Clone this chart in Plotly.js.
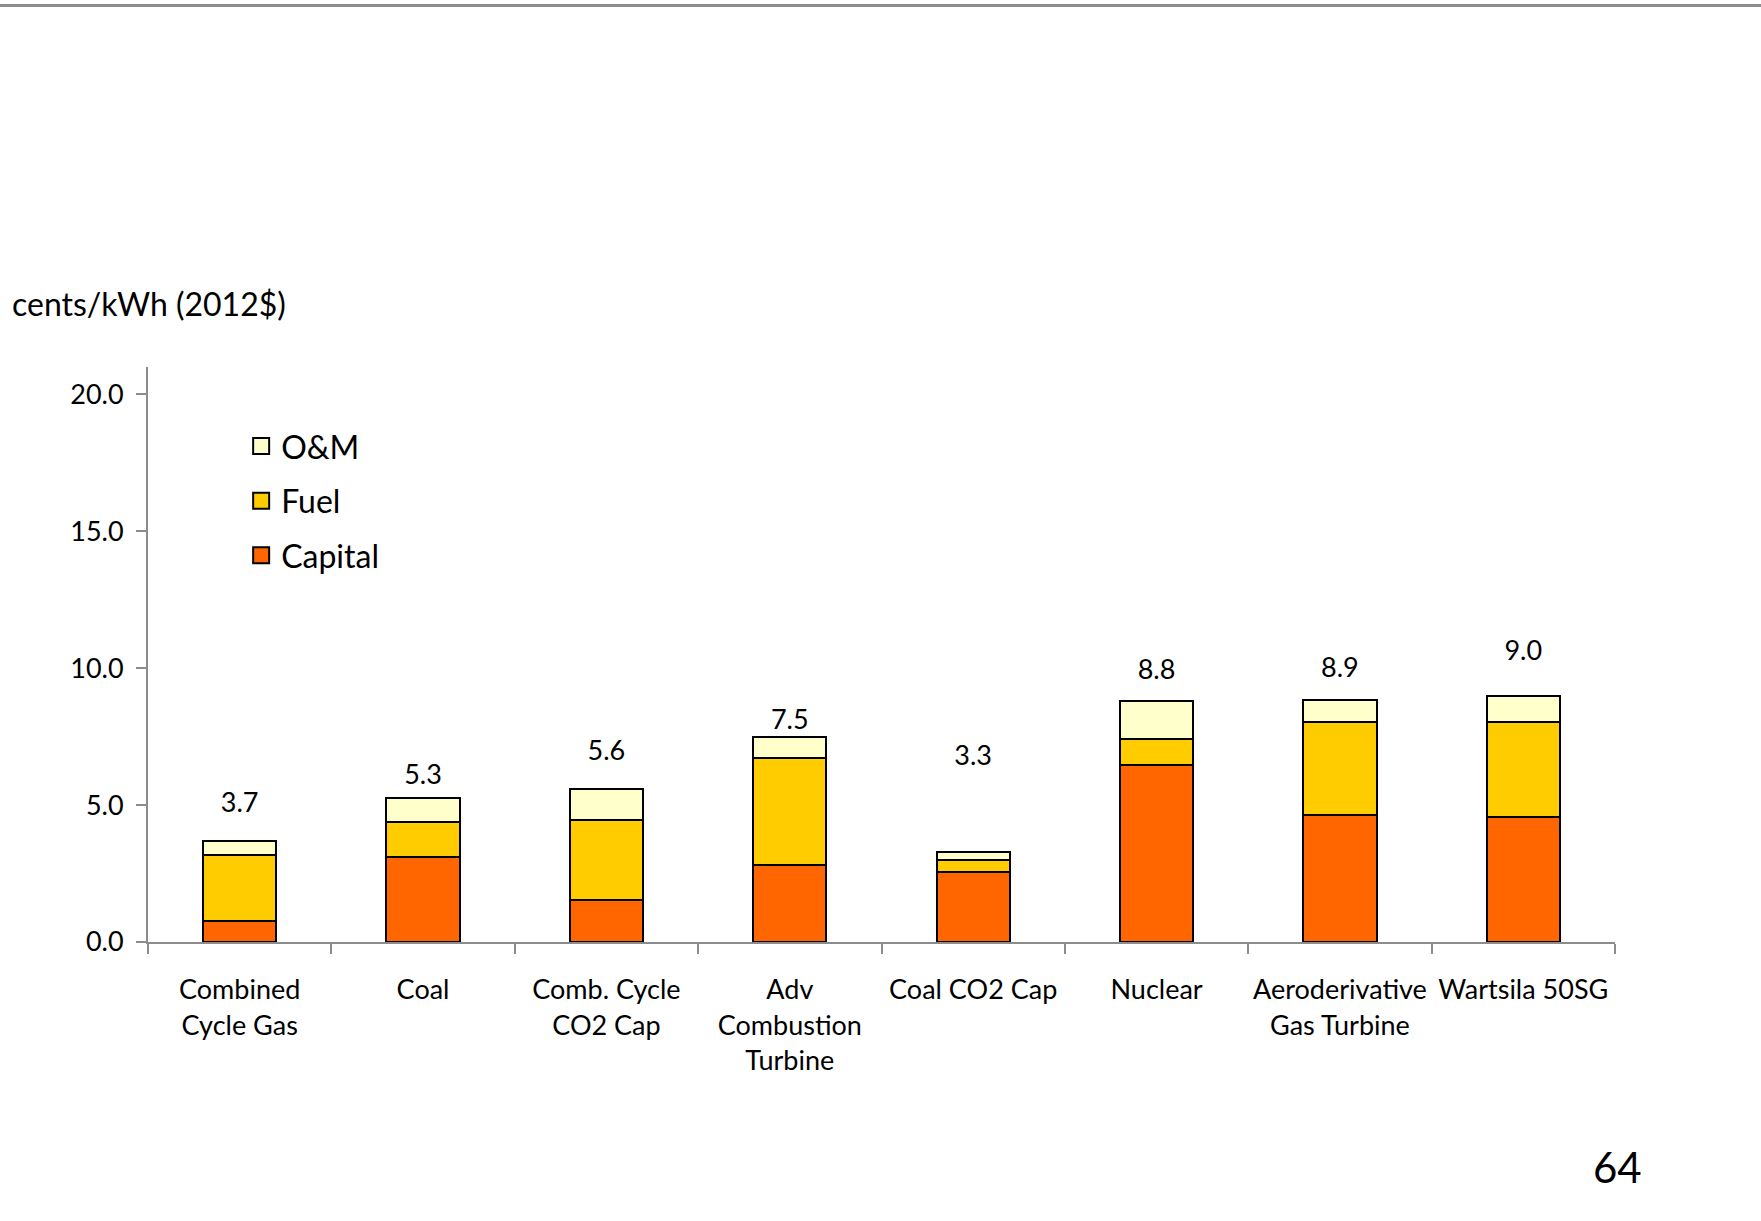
<!DOCTYPE html>
<html>
<head>
<meta charset="utf-8">
<script src="https://cdn.plot.ly/plotly-3.0.1.min.js"></script>
<style>
  html, body { margin: 0; padding: 0; background: #fff; }
  #chart { width: 1761px; height: 1221px; }
</style>
</head>
<body>
<div id="chart"></div>
<script>
// ---- data ----
const categories = [
  "Combined<br>Cycle Gas",
  "Coal",
  "Comb. Cycle<br>CO2 Cap",
  "Adv<br>Combustion<br>Turbine",
  "Coal CO2 Cap",
  "Nuclear",
  "Aeroderivative<br>Gas Turbine",
  "Wartsila 50SG"
];
const capital = [0.75, 3.10, 1.55, 2.83, 2.56, 6.45, 4.64, 4.55];
const fuel    = [2.42, 1.28, 2.92, 3.89, 0.43, 0.97, 3.39, 3.48];
const om      = [0.53, 0.87, 1.13, 0.78, 0.31, 1.38, 0.82, 0.97];
const totalLabels = ["3.7", "5.3", "5.6", "7.5", "3.3", "8.8", "8.9", "9.0"];
// height (cents/kWh) at which each total label sits in the original chart
const totalLabelY = [4.98, 6.01, 6.88, 8.03, 6.71, 9.84, 9.92, 10.54];
const yTicks = [0, 5, 10, 15, 20];
const seriesNames = ["Capital", "Fuel", "O&M"];
const seriesColors = ["#FF6600", "#FFCC00", "#FFFFCC"];

// ---- chart ----
const FONT = "Lato, 'Open Sans', sans-serif";
const outline = { color: "#000000", width: 2 };
const seriesValues = [capital, fuel, om];

const traces = [];
seriesValues.forEach((vals, i) => {
  traces.push({
    type: "bar", name: seriesNames[i], x: categories, y: vals,
    marker: { color: seriesColors[i], line: outline },
    showlegend: false, hoverinfo: "skip"
  });
});
// legend entries (larger square swatches, like the original)
seriesNames.forEach((nm, i) => {
  traces.push({
    type: "scatter", mode: "markers", name: nm, x: [null], y: [null],
    marker: { symbol: "square", size: 20, color: seriesColors[i], line: { color: "#000", width: 2 } },
    legendgroup: "g" + i, legendrank: 10 - i, showlegend: true, hoverinfo: "skip"
  });
});
traces.push({
  type: "scatter", mode: "text", x: categories, y: totalLabelY, text: totalLabels,
  textposition: "middle center", textfont: { family: FONT, size: 27, color: "#000" },
  showlegend: false, hoverinfo: "skip", cliponaxis: false
});

const layout = {
  width: 1761, height: 1221,
  paper_bgcolor: "#ffffff", plot_bgcolor: "#ffffff",
  margin: { l: 148, r: 146, t: 367, b: 279 },
  barmode: "stack",
  bargap: 0.6,
  font: { family: FONT, color: "#000" },
  showlegend: true,
  legend: {
    x: 0.0635, y: 0.910, xanchor: "left", yanchor: "top",
    traceorder: "grouped", tracegroupgap: 10,
    font: { family: FONT, size: 32, color: "#000" },
    bgcolor: "rgba(0,0,0,0)"
  },
  xaxis: {
    type: "category",
    showline: true, linecolor: "#8c8c8c", linewidth: 2,
    ticks: "outside", tickson: "boundaries", ticklen: 10, tickcolor: "#8c8c8c", tickwidth: 2,
    tickfont: { family: FONT, size: 27, color: "#000" },
    tickangle: 0,
    ticklabelstandoff: 23,
    showgrid: false, zeroline: false, fixedrange: true
  },
  yaxis: {
    range: [0, 21],
    tickvals: yTicks, tickformat: ".1f",
    showline: true, linecolor: "#8c8c8c", linewidth: 2,
    ticks: "outside", ticklen: 10, tickcolor: "#8c8c8c", tickwidth: 2,
    tickfont: { family: FONT, size: 27, color: "#000" },
    ticklabelstandoff: 7,
    showgrid: false, zeroline: false, fixedrange: true
  },
  annotations: [
    { text: "cents/kWh (2012$)", xref: "paper", yref: "paper",
      x: -0.0942, y: 1.1105, xanchor: "left", yanchor: "middle", showarrow: false,
      font: { family: FONT, size: 32, color: "#000" } },
    { text: "64", xref: "paper", yref: "paper",
      x: 1.0014, y: -0.391, xanchor: "center", yanchor: "middle", showarrow: false,
      font: { family: FONT, size: 42, color: "#000" } }
  ],
  shapes: [
    { type: "line", xref: "paper", yref: "paper", x0: -0.11, x1: 1.11, y0: 1.6287, y1: 1.6287,
      line: { color: "#8c8c8c", width: 3 } }
  ]
};

Plotly.newPlot("chart", traces, layout, { displayModeBar: false, staticPlot: true });
</script>
</body>
</html>
